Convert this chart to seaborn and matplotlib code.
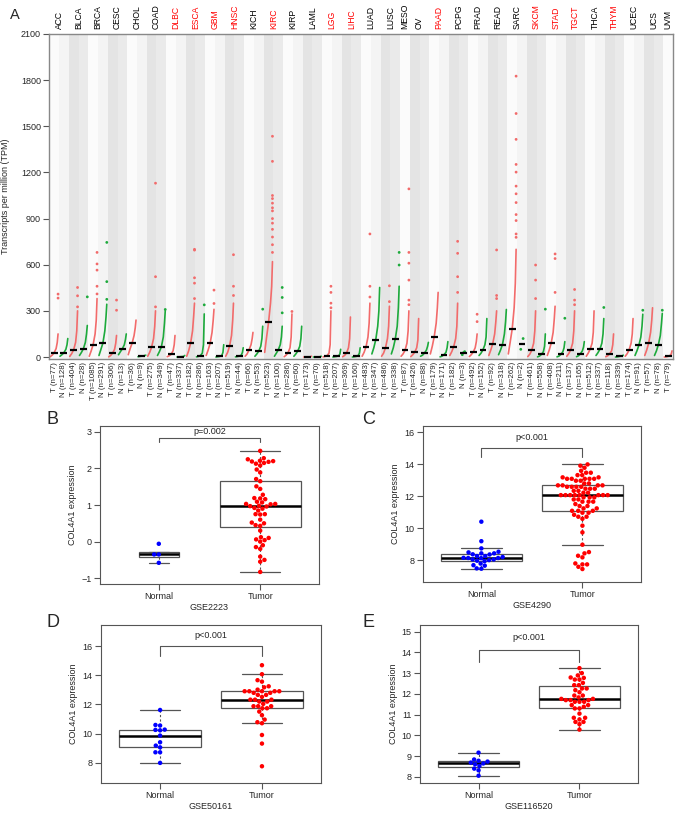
import numpy as np
import pandas as pd
import matplotlib
matplotlib.use("Agg")
import matplotlib.pyplot as plt
import matplotlib.transforms as mtransforms
import seaborn as sns

sns.set_theme(style="ticks")
plt.rcParams['font.family'] = ['Liberation Sans', 'DejaVu Sans']

# ---------------- panel A data (GEPIA dot plot) ----------------
cancers = ["ACC", "BLCA", "BRCA", "CESC", "CHOL", "COAD", "DLBC", "ESCA", "GBM", "HNSC",
           "KICH", "KIRC", "KIRP", "LAML", "LGG", "LIHC", "LUAD", "LUSC", "MESO", "OV",
           "PAAD", "PCPG", "PRAD", "READ", "SARC", "SKCM", "STAD", "TGCT", "THCA", "THYM",
           "UCEC", "UCS", "UVM"]
red_cancers = ["DLBC", "ESCA", "GBM", "HNSC", "KIRC", "LGG", "LIHC", "PAAD", "SKCM",
               "STAD", "TGCT", "THYM"]
n_tumor = [77, 404, 1085, 306, 36, 275, 47, 182, 163, 519, 66, 523, 286, 173, 518, 369,
           483, 486, 87, 426, 179, 182, 492, 92, 262, 461, 408, 137, 512, 118, 174, 57, 79]
n_normal = [128, 28, 291, 13, 9, 349, 337, 286, 207, 44, 53, 100, 60, 70, 207, 160,
            347, 338, None, 88, 171, 3, 152, 318, 2, 558, 211, 165, 337, 339, 91, 78, None]

# sorted TPM values read at ranks 0, 25, 50, 75, 90, 100 % (one list per column)
qgrid = np.array([0, 0.25, 0.5, 0.75, 0.9, 1.0])
curve_vals = [
    [2, 12, 28, 55, 95, 150], [5, 15, 28, 50, 80, 120],
    [4, 22, 47, 95, 170, 300], [10, 30, 54, 95, 150, 205],
    [5, 40, 81, 150, 240, 380], [10, 50, 90, 170, 260, 343],
    [1, 10, 26, 50, 90, 140], [15, 35, 54, 80, 115, 150],
    [15, 55, 90, 140, 190, 240], [2, 4, 6, 8, 10, 12],
    [5, 30, 64, 120, 200, 300], [10, 35, 66, 130, 220, 300],
    [2, 8, 17, 40, 80, 140], [0, 1, 2, 3, 5, 10],
    [5, 40, 90, 170, 270, 350], [1, 4, 9, 25, 80, 280],
    [10, 45, 88, 160, 240, 310], [0, 2, 4, 10, 30, 80],
    [5, 30, 71, 140, 240, 350], [1, 3, 6, 12, 30, 60],
    [5, 20, 47, 80, 120, 160], [5, 20, 39, 70, 120, 200],
    [30, 130, 225, 350, 460, 620], [5, 25, 47, 80, 130, 200],
    [2, 12, 28, 60, 130, 280], [5, 20, 39, 70, 120, 200],
    [0, 0, 0.5, 1, 2, 5], [0, 0, 0.5, 1, 2, 5],
    [1, 4, 9, 25, 80, 300], [0, 2, 4, 8, 20, 50],
    [2, 10, 26, 60, 120, 260], [0, 2, 4, 10, 25, 60],
    [5, 30, 66, 130, 220, 350], [20, 60, 113, 200, 300, 452],
    [5, 25, 60, 120, 200, 330], [20, 60, 116, 200, 320, 460],
    [5, 20, 43, 90, 170, 300],
    [3, 15, 32, 60, 110, 250], [5, 12, 26, 45, 70, 95],
    [20, 70, 133, 220, 320, 420], [1, 6, 15, 30, 60, 100],
    [10, 35, 68, 120, 200, 350], [],
    [3, 15, 32, 60, 100, 150], [10, 25, 47, 80, 130, 250],
    [10, 45, 86, 150, 230, 300], [15, 45, 81, 150, 230, 309],
    [20, 100, 182, 320, 480, 700], [],
    [3, 18, 43, 90, 170, 300], [1, 6, 17, 35, 70, 150],
    [10, 45, 90, 160, 250, 330], [1, 6, 17, 35, 60, 100],
    [5, 22, 47, 90, 170, 300], [2, 8, 21, 40, 65, 100],
    [5, 25, 51, 90, 160, 300], [10, 28, 51, 90, 150, 250],
    [2, 8, 21, 40, 80, 150], [0, 1, 4, 6, 8, 12],
    [5, 22, 47, 90, 150, 250], [10, 40, 77, 130, 200, 278],
    [10, 45, 90, 160, 240, 320], [10, 40, 81, 140, 220, 283],
    [0, 1, 4, 10, 20, 40],
]
# isolated high points (and all points for the tiny groups)
tail_vals = [
    [383, 409], [],
    [326, 398, 452], [391],
    [410, 460, 565, 605, 680], [375, 490, 745],
    [304, 370], [],
    [], [],
    [326, 522, 1130], [309],
    [], [],
    [380, 480, 515, 695, 700], [339],
    [348, 435], [],
    [400, 460, 665], [],
    [], [311],
    [680, 730, 780, 830, 870, 900, 950, 970, 1000, 1030, 1050, 1272, 1435], [287, 387, 452],
    [296], [],
    [], [],
    [320, 350, 420, 460], [],
    [], [],
    [390, 460, 800], [],
    [360, 463], [598, 680],
    [340, 370, 500, 610, 680, 1093],
    [], [],
    [], [],
    [420, 522, 674, 752], [15, 28, 35],
    [230, 278], [],
    [380, 400, 696], [],
    [778, 800, 887, 926, 1004, 1061, 1111, 1202, 1252, 1415, 1583, 1826], [50, 120],
    [380, 500, 598], [311],
    [420, 640, 670], [252],
    [340, 370, 439], [],
    [], [322],
    [], [],
    [], [304],
    [], [304],
    [],
]

# ---------------- panels B-E data ----------------
b_normal = [-0.06, -0.35, -0.35, -0.58]
b_tumor = [2.48, 2.28, 2.25, 2.21, 2.2, 2.19, 2.18, 2.15, 2.13, 2.08, 1.97, 1.89, 1.71,
           1.65, 1.51, 1.44, 1.28, 1.19, 1.18, 1.16, 1.09, 1.07, 1.03, 1.03, 1.02, 0.98,
           0.97, 0.96, 0.92, 0.9, 0.85, 0.75, 0.75, 0.74, 0.6, 0.52, 0.5, 0.45, 0.43, 0.3,
           0.12, 0.1, 0.06, 0.04, 0.0, -0.1, -0.15, -0.2, -0.41, -0.5, -0.55, -0.83]
c_normal = [10.42, 9.2, 8.75, 8.54, 8.5, 8.44, 8.44, 8.38, 8.37, 8.27, 8.27, 8.21, 8.16,
            8.15, 8.15, 8.14, 8.06, 8.06, 8.02, 7.98, 7.95, 7.8, 7.7, 7.67, 7.5, 7.48]
c_tumor = [14.0, 13.92, 13.79, 13.6, 13.48, 13.48, 13.33, 13.33, 13.19, 13.19, 13.1, 13.1,
           13.1, 13.1, 13.1, 12.98, 12.98, 12.81, 12.81, 12.69, 12.69, 12.69, 12.69, 12.6,
           12.6, 12.6, 12.6, 12.48, 12.48, 12.48, 12.35, 12.35, 12.23, 12.23, 12.08, 12.08,
           12.08, 12.08, 12.08, 12.08, 12.08, 12.08, 11.94, 11.94, 11.94, 11.81, 11.81,
           11.67, 11.67, 11.67, 11.52, 11.4, 11.4, 11.25, 11.25, 11.1, 11.1, 11.1, 10.98,
           10.98, 10.85, 10.73, 10.73, 10.6, 10.17, 9.75, 8.98, 8.52, 8.44, 8.29, 8.19,
           7.81, 7.75, 7.75, 7.6, 7.46]
d_normal = [11.62, 10.59, 10.55, 10.27, 10.25, 10.22, 9.86, 9.4, 9.17, 9.05, 8.71, 8.71, 7.98]
d_tumor = [14.7, 14.08, 13.67, 13.57, 13.25, 13.18, 13.02, 12.91, 12.91, 12.91, 12.91, 12.91,
           12.8, 12.8, 12.66, 12.66, 12.52, 12.33, 12.33, 12.33, 12.2, 12.2, 12.04, 11.88,
           11.88, 11.88, 11.74, 11.74, 11.51, 11.26, 10.96, 10.78, 10.71, 9.9, 9.31, 7.75]
e_normal = [9.17, 8.84, 8.78, 8.74, 8.69, 8.65, 8.61, 8.53, 8.4, 8.32, 8.06]
e_tumor = [13.24, 13.0, 12.89, 12.79, 12.77, 12.69, 12.69, 12.53, 12.42, 12.42, 12.26,
           12.26, 12.18, 12.08, 11.92, 11.92, 11.83, 11.76, 11.76, 11.7, 11.7, 11.7, 11.62,
           11.62, 11.62, 11.46, 11.46, 11.38, 11.3, 11.3, 11.05, 10.85, 10.85, 10.77,
           10.65, 10.65, 10.54, 10.28]

RED_T = "#F26B6B"
GREEN_N = "#1DAA3C"
EDGE = "#555555"

fig = plt.figure(figsize=(6.77, 8.15), dpi=100)

# ---------------- panel A ----------------
col_cancer, col_group, col_n = [], [], []
for c, nt, nn in zip(cancers, n_tumor, n_normal):
    col_cancer.append(c); col_group.append("T"); col_n.append(nt)
    if nn is not None:
        col_cancer.append(c); col_group.append("N"); col_n.append(nn)
col_labels = [f"{g} (n={n})" for g, n in zip(col_group, col_n)]

curve_rows, tail_rows, medians = [], [], []
for i, (g, cv, tv) in enumerate(zip(col_group, curve_vals, tail_vals)):
    if cv:
        for q, v in zip(qgrid, cv):
            curve_rows.append((i, i + (q - 0.5) * 0.8, v, g))
        for v in tv:
            tail_rows.append((i + 0.4, v, g))
        medians.append(cv[2])
    else:
        xs = np.linspace(-0.12, 0.12, len(tv))
        for dx, v in zip(xs, tv):
            tail_rows.append((i + dx, v, g))
        medians.append(np.median(tv))
df_curve = pd.DataFrame(curve_rows, columns=["col", "x", "tpm", "grp"])
df_tail = pd.DataFrame(tail_rows, columns=["x", "tpm", "grp"])

axA = fig.add_axes([0.0728, 0.5595, 0.9213, 0.3988])
for i, c in enumerate(col_cancer):
    odd = cancers.index(c) % 2 == 1
    if odd:
        shade = "#e4e4e4" if col_group[i] == "T" else "#eaeaea"
    else:
        shade = "#fbfbfb" if col_group[i] == "T" else "#f4f4f4"
    axA.axvspan(i - 0.5, i + 0.5, color=shade, lw=0, zorder=0)

pal = {"T": RED_T, "N": GREEN_N}
sns.lineplot(data=df_curve, x="x", y="tpm", hue="grp", units="col", estimator=None,
             palette=pal, sort=False, legend=False, lw=1.2, ax=axA, zorder=2)
sns.scatterplot(data=df_tail, x="x", y="tpm", hue="grp", palette=pal, s=4, linewidth=0,
                legend=False, ax=axA, zorder=2)
pos = np.arange(len(col_labels))
axA.hlines(medians, pos - 0.35, pos + 0.35, color="black", lw=1.6, zorder=4)

axA.set_xlim(-0.5, len(col_labels) - 0.5)
axA.set_ylim(-13, 2100)
axA.set_yticks(np.arange(0, 2101, 300))
axA.set_xticks(pos)
axA.set_xticklabels(col_labels, rotation=90, fontsize=5.7)
axA.tick_params(axis="y", labelsize=6.5, length=4, width=0.8, color=EDGE, pad=2)
axA.tick_params(axis="x", length=0, pad=2)
axA.set_xlabel("")
axA.set_ylabel("Transcripts per million (TPM)", fontsize=6.5, labelpad=8)
for s in axA.spines.values():
    s.set_color("#888888")
    s.set_linewidth(1.0)

trans = mtransforms.blended_transform_factory(axA.transData, axA.transAxes)
start = 0
for c in cancers:
    k = col_cancer.count(c)
    xc = start + (k - 1) / 2
    axA.text(xc, 1.015, c, rotation=90, ha="center", va="bottom", fontsize=6.2,
             color="#FF0000" if c in red_cancers else "black", transform=trans)
    start += k

fig.text(0.015, 0.981, "A", fontsize=10.5, va="center", ha="left")


# ---------------- panels B-E ----------------
def expr_panel(ax, normal, tumor, ylim, yticks, gse, ptext, br_y, br_drop, txt_y,
               normal_width=0.8):
    df = pd.DataFrame({"group": ["Normal"] * len(normal) + ["Tumor"] * len(tumor),
                       "expr": list(normal) + list(tumor)})
    box_kw = dict(x="group", y="expr", order=["Normal", "Tumor"], showfliers=False,
                  color="white", linecolor=EDGE, linewidth=0.9,
                  medianprops=dict(color="black", linewidth=1.8),
                  whiskerprops=dict(color=EDGE, linewidth=0.8, linestyle=(0, (2, 2))),
                  capprops=dict(color=EDGE, linewidth=0.9))
    for grp, w in [("Normal", normal_width), ("Tumor", 0.8)]:
        sns.boxplot(data=df[df["group"] == grp], width=w, ax=ax, **box_kw)
    sns.swarmplot(data=df, x="group", y="expr", order=["Normal", "Tumor"], hue="group",
                  palette={"Normal": "#0000FF", "Tumor": "#FF0000"}, size=3.2,
                  legend=False, ax=ax, zorder=3)
    ax.plot([0, 0, 1, 1], [br_drop, br_y, br_y, br_drop], color=EDGE, lw=0.8)
    ax.text(0.5, txt_y, ptext, ha="center", va="center", fontsize=6.5)
    ax.set_xlim(-0.58, 1.58)
    ax.set_ylim(*ylim)
    ax.set_yticks(yticks)
    ax.set_xlabel(gse, fontsize=6.5, labelpad=1.5)
    ax.set_ylabel("COL4A1 expression", fontsize=6.5, labelpad=3)
    ax.tick_params(labelsize=6.5, length=4, width=0.8, color=EDGE, pad=2)
    for s in ax.spines.values():
        s.set_visible(True)
        s.set_color(EDGE)
        s.set_linewidth(0.8)


axB = fig.add_axes([0.1477, 0.2834, 0.3235, 0.1939])
expr_panel(axB, b_normal, b_tumor, (-1.16, 3.16), [-1, 0, 1, 2, 3], "GSE2223",
           "p=0.002", 2.84, 2.71, 3.0, normal_width=0.4)
axC = fig.add_axes([0.6244, 0.2859, 0.3225, 0.1914])
expr_panel(axC, c_normal, c_tumor, (6.65, 16.4), [8, 10, 12, 14, 16], "GSE4290",
           "p<0.001", 15.04, 14.44, 15.67)
axD = fig.add_axes([0.1492, 0.0393, 0.325, 0.1939])
expr_panel(axD, d_normal, d_tumor, (6.6, 17.47), [8, 10, 12, 14, 16], "GSE50161",
           "p<0.001", 16.0, 15.36, 16.73)
axE = fig.add_axes([0.6204, 0.0393, 0.322, 0.1939])
expr_panel(axE, e_normal, e_tumor, (7.71, 15.32), list(range(8, 16)), "GSE116520",
           "p<0.001", 14.09, 13.55, 14.73)

for letter, x, y in [("B", 0.068, 0.485), ("C", 0.535, 0.485),
                     ("D", 0.068, 0.236), ("E", 0.535, 0.236)]:
    fig.text(x, y, letter, fontsize=13, va="center", ha="left")

fig.savefig("out.png", dpi=100)
